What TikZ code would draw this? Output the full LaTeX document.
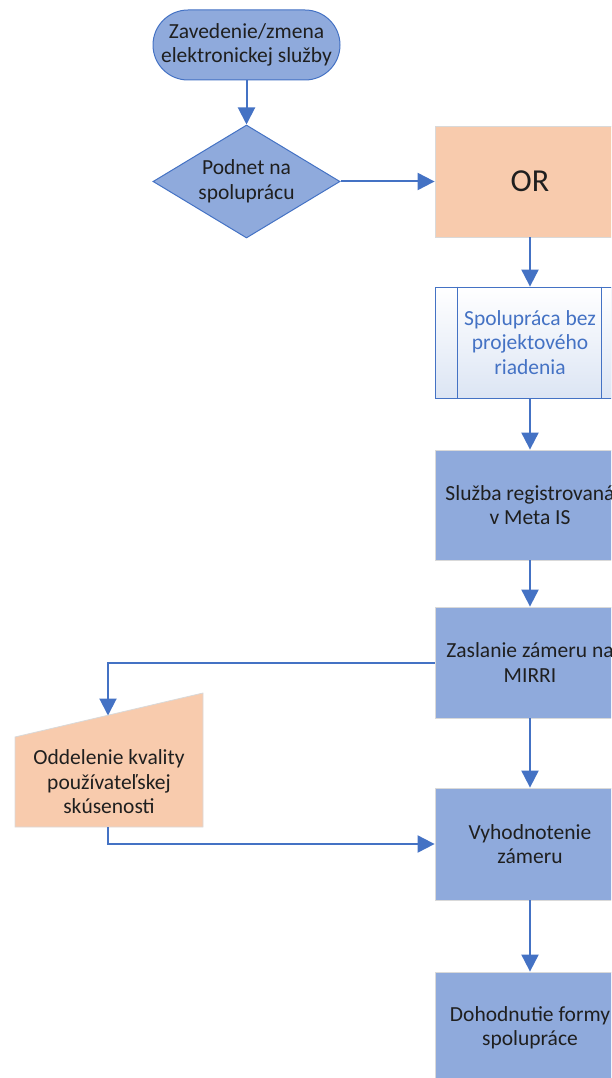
\documentclass[tikz,border=0pt]{standalone}
\usepackage{fontspec}
\setmainfont{Carlito}
\usetikzlibrary{arrows.meta,shapes.geometric,calc}
\definecolor{bfill}{HTML}{8FAADC}
\definecolor{bline}{HTML}{4472C4}
\definecolor{peach}{HTML}{F8CBAD}
\definecolor{edgegray}{HTML}{D9D9D9}
\definecolor{predfill}{HTML}{DCE5F4}
\begin{document}
\begin{tikzpicture}[x=1pt,y=-1pt,
  font=\fontsize{21.5}{24.5}\selectfont,
  box/.style={rectangle, fill=bfill, draw=edgegray, line width=0.8pt,
    minimum width=190pt, minimum height=111pt, align=center, text=black!88, inner sep=0pt},
  term/.style={rectangle, rounded corners=35pt, fill=bfill, draw=bline, line width=1pt,
    minimum width=187pt, minimum height=70pt, align=center, text=black!88, inner sep=0pt},
  dia/.style={diamond, aspect=1.65, fill=bfill, draw=bline, line width=1pt,
    minimum width=187pt, minimum height=113pt, align=center, text=black!88, inner sep=0pt},
  conn/.style={draw=bline, line width=2pt, -{Triangle[width=17pt,length=17pt]}},
]
\useasboundingbox (0,0) rectangle (611,1078);
\clip (0,0) rectangle (611,1078);

\node[term] (start) at (246.5,45) {Zavedenie/zmena\\elektronickej služby};
\node[dia] (dec) at (246.5,181.5) {Podnet na\\spoluprácu};
\node[box, fill=peach, font=\fontsize{32}{34}\selectfont] (or) at (530,181.5) {OR};
\node[box, draw=bline, top color=white, bottom color=predfill, text=bline] (pred) at (530,342.5)
  {Spolupráca bez\\projektového\\riadenia};
\draw[bline, line width=0.8pt] ($(pred.north west)+(23,0)$) -- ($(pred.south west)+(23,0)$);
\draw[bline, line width=0.8pt] ($(pred.north east)+(-24,0)$) -- ($(pred.south east)+(-24,0)$);
\node[box, minimum height=110pt] (sluz) at (530,505) {Služba registrovaná\\v Meta IS};
\node[box] (zas) at (530,662.5) {Zaslanie zámeru na\\MIRRI};
\node[box, minimum height=112pt] (vyh) at (530,844) {Vyhodnotenie\\zámeru};
\node[box, minimum height=112pt] (doh) at (530,1028) {Dohodnutie formy\\spolupráce};

\path[fill=peach, draw=edgegray, line width=0.8pt] (15,737) -- (203,693) -- (203,827) -- (15,827) -- cycle;
\node[rectangle, minimum width=188pt, minimum height=90pt, inner sep=0pt, align=center, text=black!88] (man) at (109,782)
  {Oddelenie kvality\\používateľskej\\skúsenosti};
\coordinate (mtop) at (108,715.5);

\draw[conn] (start) -- (dec);
\draw[conn] (dec) -- (or);
\draw[conn] (or) -- (pred);
\draw[conn] (pred) -- (sluz);
\draw[conn] (sluz) -- (zas);
\draw[conn] (zas.west) -| (mtop);
\draw[conn] (zas) -- (vyh);
\draw[conn] (man.south -| mtop) |- (vyh.west);
\draw[conn] (vyh) -- (doh);
\end{tikzpicture}
\end{document}
